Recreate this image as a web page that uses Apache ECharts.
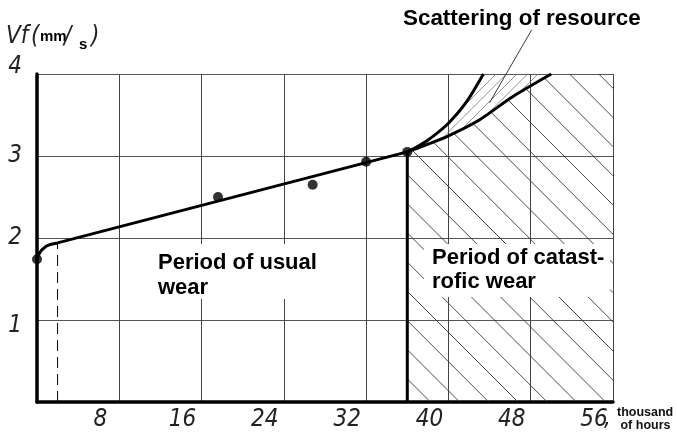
<!DOCTYPE html>
<html>
<head>
<meta charset="utf-8">
<script src="https://cdn.jsdelivr.net/npm/echarts@6/dist/echarts.min.js"></script>
<style>
  html, body { margin: 0; padding: 0; background: #fff; }
  #chart { width: 677px; height: 435px; }
</style>
</head>
<body>
<div id="chart"></div>
<script>
// axes
const xTickValues = [8, 16, 24, 32, 40, 48, 56]
const xTickLabels = ['8', '16', '24', '32', '40', '48', '56']
const yTickValues = [1, 2, 3, 4]
const yTickLabels = ['1', '2', '3', '4']

// usual wear: run-in bend then straight line up to the limit
const wearCurve = [[0, 1.74], [0.1, 1.78], [0.22, 1.81], [0.4, 1.845], [0.61, 1.87], [0.9, 1.9], [1.26, 1.92], [2, 1.94], [36, 3.05]]
// measured points
const measuredX = [0, 17.6, 26.8, 32, 36]
const measuredY = [1.74, 2.50, 2.65, 2.93, 3.05]
// catastrophic wear branches (scatter of resource between them)
const upperBranch = [[36, 3.05], [37.2, 3.13], [38.4, 3.23], [40, 3.40], [41.7, 3.65], [43.4, 4.0]]
const lowerBranch = [[36, 3.05], [37.9, 3.14], [39.9, 3.24], [43, 3.44], [46.2, 3.72], [50, 4.0]]
// limit line and run-in mark
const limitLine = [[36, 0], [36, 3.05]]
const runInLine = [[2, 0], [2, 1.94]]
// leader of "Scattering of resource"
const leaderLine = [[48.1, 4.54], [44.0, 3.65]]

const X_MAX = 56, Y_MAX = 4

const gost = { fontFamily: "'DejaVu Sans Condensed', 'DejaVu Sans', sans-serif", fontStyle: 'italic', fontWeight: 200, color: '#222' }
const bold = { fontFamily: "'Liberation Sans', Arial, sans-serif", fontWeight: 'bold', fill: '#000' }
const thin = { fontFamily: gost.fontFamily, fontStyle: 'italic', fontWeight: 200, fill: '#222' }

// 45° hatch lines clipped to a pixel polygon; dir +1 = "\", -1 = "/"
function hatch(poly, step, dir, phase, style) {
  const cs = poly.map(p => p[1] - dir * p[0])
  const cmin = Math.min(...cs), cmax = Math.max(...cs)
  const out = []
  for (let c = Math.ceil((cmin - phase) / step) * step + phase; c <= cmax; c += step) {
    const xs = []
    for (let i = 0; i < poly.length; i++) {
      const a = poly[i], b = poly[(i + 1) % poly.length]
      const fa = a[1] - dir * a[0] - c, fb = b[1] - dir * b[0] - c
      if ((fa < 0) !== (fb < 0)) {
        const t = fa / (fa - fb)
        xs.push(a[0] + t * (b[0] - a[0]))
      }
    }
    xs.sort((m, n) => m - n)
    for (let k = 0; k + 1 < xs.length; k += 2) {
      out.push({ type: 'line', shape: { x1: xs[k], y1: dir * xs[k] + c, x2: xs[k + 1], y2: dir * xs[k + 1] + c }, style })
    }
  }
  return out
}

const chart = echarts.init(document.getElementById('chart'))

chart.setOption({
  animation: false,
  grid: { left: 37, top: 74, width: 576, height: 328, show: false },
  xAxis: {
    type: 'value', min: 0, max: X_MAX, interval: 8,
    axisLine: { show: true, onZero: false, lineStyle: { color: '#000', width: 3.5 } },
    axisTick: { show: false },
    splitLine: { show: true, lineStyle: { color: '#444', width: 1 } },
    axisLabel: {
      ...gost, fontSize: 24, margin: 6, padding: [0, 38, 0, 0],
      formatter: v => { const i = xTickValues.indexOf(v); return i < 0 ? '' : xTickLabels[i] }
    }
  },
  yAxis: {
    type: 'value', min: 0, max: Y_MAX, interval: 1,
    axisLine: { show: true, onZero: false, lineStyle: { color: '#000', width: 3.5 } },
    axisTick: { show: false },
    splitLine: { show: true, lineStyle: { color: '#555', width: 1 } },
    axisLabel: {
      ...gost, fontSize: 24, margin: 22, align: 'center',
      formatter: v => {
        const i = yTickValues.indexOf(v)
        if (i < 0) return ''
        if (v === 4) return '{up|' + yTickLabels[i] + '}'
        if (v === 1) return '{dn|' + yTickLabels[i] + '}'
        return yTickLabels[i]
      },
      rich: {
        up: { ...gost, fontSize: 24, padding: [0, 0, 14, 0] },
        dn: { ...gost, fontSize: 24, padding: [12, 0, 0, 0] }
      }
    }
  },
  series: [
    {
      // hatching of catastrophic wear and of the scatter band
      type: 'custom', silent: true, z: 1,
      data: [0],
      renderItem: (params, api) => {
        const c = p => api.coord(p)
        const catast = [c([limitLine[0][0], 0])]
          .concat(lowerBranch.map(c))
          .concat([c([X_MAX, Y_MAX]), c([X_MAX, 0])])
        const band = upperBranch.map(c).concat(lowerBranch.slice().reverse().map(c))
        return {
          type: 'group',
          children: hatch(catast, 29.2, 1, 0.8, { stroke: '#333', lineWidth: 0.9 })
            .concat(hatch(band, 10.5, -1, 3, { stroke: '#777', lineWidth: 0.8 }))
        }
      }
    },
    {
      type: 'line', data: runInLine, showSymbol: false, z: 3,
      lineStyle: { color: '#000', width: 1, type: [11, 6] }
    },
    {
      type: 'line', data: limitLine, showSymbol: false, z: 4,
      lineStyle: { color: '#000', width: 3 }
    },
    {
      type: 'line', data: wearCurve, showSymbol: false, z: 5,
      lineStyle: { color: '#000', width: 3 }
    },
    {
      type: 'line', data: upperBranch, showSymbol: false, smooth: 0.3, z: 5,
      lineStyle: { color: '#000', width: 3 }
    },
    {
      type: 'line', data: lowerBranch, showSymbol: false, smooth: 0.3, z: 5,
      lineStyle: { color: '#000', width: 3 }
    },
    {
      type: 'line', data: leaderLine, showSymbol: false, clip: false, z: 5,
      lineStyle: { color: '#222', width: 0.9 }
    },
    {
      type: 'scatter', data: measuredX.map((x, i) => [x, measuredY[i]]),
      symbolSize: 10, z: 6, itemStyle: { color: '#000' }
    }
  ],
  graphic: [
    // white boxes behind the period captions
    { type: 'rect', z: 10, shape: { x: 154, y: 244, width: 170, height: 55 }, style: { fill: '#fff' } },
    { type: 'rect', z: 10, shape: { x: 424, y: 244, width: 186, height: 53 }, style: { fill: '#fff' } },
    { type: 'text', z: 11, left: 403, top: 8, style: { ...bold, text: 'Scattering of resource', fontSize: 22.4 } },
    { type: 'text', z: 11, left: 158, top: 250, style: { ...bold, text: 'Period of usual\nwear', fontSize: 22, lineHeight: 25 } },
    { type: 'text', z: 11, left: 432, top: 246, style: { ...bold, text: 'Period of catast-\nrofic wear', fontSize: 22, lineHeight: 24 } },
    { type: 'text', z: 11, left: 617, top: 406, style: { fontFamily: "'Liberation Sans', Arial, sans-serif", fontWeight: 'bold', fill: '#111', text: 'thousand\n of hours', fontSize: 12.5, lineHeight: 13 } },
    { type: 'text', z: 11, left: 604, top: 407, style: { ...thin, text: ',', fontSize: 24 } },
    // axis name Vf (mm/s)
    { type: 'text', z: 11, left: 6, top: 25, style: { ...thin, text: 'Vf', fontSize: 24 } },
    { type: 'text', z: 11, left: 31, top: 25, style: { ...thin, text: '(', fontSize: 24 } },
    { type: 'text', z: 11, left: 40, top: 29, style: { ...bold, text: 'mm', fontSize: 15 } },
    { type: 'text', z: 11, left: 64, top: 25, style: { ...thin, text: '/', fontSize: 24 } },
    { type: 'text', z: 11, left: 79, top: 37, style: { ...bold, text: 's', fontSize: 15 } },
    { type: 'text', z: 11, left: 91, top: 25, style: { ...thin, text: ')', fontSize: 24 } }
  ]
})
</script>
</body>
</html>
